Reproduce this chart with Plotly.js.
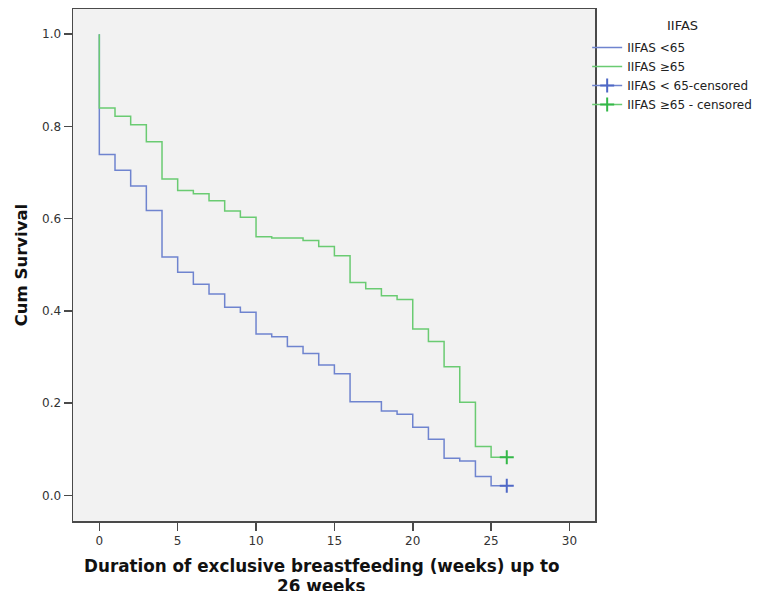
<!DOCTYPE html>
<html>
<head>
<meta charset="utf-8">
<script src="https://cdn.plot.ly/plotly-3.0.1.min.js"></script>
<style>html,body{margin:0;padding:0;background:#fff;}#chart{width:767px;height:591px;}</style>
</head>
<body>
<div id="chart"></div>
<script>
// Kaplan-Meier step data
const weeksLow = [0, 0, 1, 2, 3, 4, 5, 6, 7, 8, 9, 10, 11, 12, 13, 14, 15, 16, 17, 18, 19, 20, 21, 22, 23, 24, 25, 26];
const survLow  = [1.0, 0.739, 0.705, 0.671, 0.618, 0.517, 0.484, 0.458, 0.437, 0.408, 0.397, 0.350, 0.344, 0.323, 0.308, 0.283, 0.264, 0.203, 0.203, 0.183, 0.176, 0.148, 0.122, 0.081, 0.075, 0.041, 0.021, 0.021];
const weeksHigh = [0, 0, 1, 2, 3, 4, 5, 6, 7, 8, 9, 10, 11, 12, 13, 14, 15, 16, 17, 18, 19, 20, 21, 22, 23, 24, 25, 26];
const survHigh  = [1.0, 0.840, 0.822, 0.804, 0.767, 0.686, 0.661, 0.654, 0.639, 0.617, 0.603, 0.561, 0.558, 0.558, 0.553, 0.540, 0.520, 0.462, 0.448, 0.433, 0.425, 0.361, 0.334, 0.279, 0.202, 0.106, 0.083, 0.083];
const censorWeeksLow = [26];
const censorSurvLow = [0.021];
const censorWeeksHigh = [26];
const censorSurvHigh = [0.083];
const seriesNames = ['IIFAS <65', 'IIFAS ≥65', 'IIFAS < 65-censored', 'IIFAS ≥65 - censored'];
const legendTitle = 'IIFAS';
const xTitleLines = ['Duration of exclusive breastfeeding (weeks) up to', '26 weeks'];
const yTitle = 'Cum Survival';
const xTicks = [0, 5, 10, 15, 20, 25, 30];
const yTicks = [0.0, 0.2, 0.4, 0.6, 0.8, 1.0];

const blue = '#6f84cf';
const green = '#6acb72';
const blueMark = '#4f68c6';
const greenMark = '#34b848';

const traces = [
  {x: weeksLow, y: survLow, name: seriesNames[0], type: 'scatter', mode: 'lines',
   line: {shape: 'hv', color: blue, width: 1.5}},
  {x: weeksHigh, y: survHigh, name: seriesNames[1], type: 'scatter', mode: 'lines',
   line: {shape: 'hv', color: green, width: 1.5}},
  {x: censorWeeksLow, y: censorSurvLow, name: seriesNames[2], type: 'scatter', mode: 'lines+markers',
   line: {color: blue, width: 1.5},
   marker: {symbol: 'cross-thin-open', size: 10, color: blueMark, line: {color: blueMark, width: 2}}},
  {x: censorWeeksHigh, y: censorSurvHigh, name: seriesNames[3], type: 'scatter', mode: 'lines+markers',
   line: {color: green, width: 1.5},
   marker: {symbol: 'cross-thin-open', size: 10, color: greenMark, line: {color: greenMark, width: 2}}}
];

const axisCommon = {
  showline: true, linecolor: '#4a4a4a', linewidth: 1.5, mirror: true,
  ticks: 'outside', ticklen: 8, tickwidth: 1.5, tickcolor: '#4a4a4a',
  showgrid: false, zeroline: false,
  tickfont: {family: 'DejaVu Sans', size: 12, color: '#333'}
};

const titleFont = {family: 'DejaVu Sans', size: 16.8, color: '#111'};

const layout = {
  width: 767, height: 591,
  margin: {l: 73, r: 172, t: 9, b: 70, pad: 0},
  paper_bgcolor: '#ffffff',
  plot_bgcolor: '#f2f2f2',
  font: {family: 'DejaVu Sans', color: '#222'},
  showlegend: true,
  xaxis: Object.assign({}, axisCommon, {
    range: [-1.68, 31.63], tickmode: 'array', tickvals: xTicks, ticktext: xTicks.map(String)
  }),
  yaxis: Object.assign({}, axisCommon, {
    range: [-0.0553, 1.0547], tickmode: 'array', tickvals: yTicks, ticktext: yTicks.map(v => v.toFixed(1)),
    title: {text: '<b>' + yTitle + '</b>', font: {family: 'DejaVu Sans', size: 16.5, color: '#111'}, standoff: 10}
  }),
  legend: {
    x: 0.985, xanchor: 'left', y: 0.953, yanchor: 'top',
    bgcolor: 'rgba(0,0,0,0)', borderwidth: 0,
    font: {family: 'DejaVu Sans', size: 12, color: '#222'},
    itemwidth: 30, tracegroupgap: 0
  },
  annotations: [{
    xref: 'paper', yref: 'paper', x: 0.477, y: 0, xanchor: 'center', yanchor: 'top', yshift: -33,
    showarrow: false, text: '<b>' + xTitleLines[0] + '</b>', font: titleFont
  }, {
    xref: 'paper', yref: 'paper', x: 0.477, y: 0, xanchor: 'center', yanchor: 'top', yshift: -53,
    showarrow: false, text: '<b>' + xTitleLines[1] + '</b>', font: titleFont
  }, {
    xref: 'paper', yref: 'paper', x: (682 - 73) / 522, y: 1, xanchor: 'center', yanchor: 'middle', yshift: -16,
    showarrow: false, text: legendTitle,
    font: {family: 'DejaVu Sans', size: 13, color: '#222'}
  }]
};

Plotly.newPlot('chart', traces, layout, {displayModeBar: false, staticPlot: true});
</script>
</body>
</html>
